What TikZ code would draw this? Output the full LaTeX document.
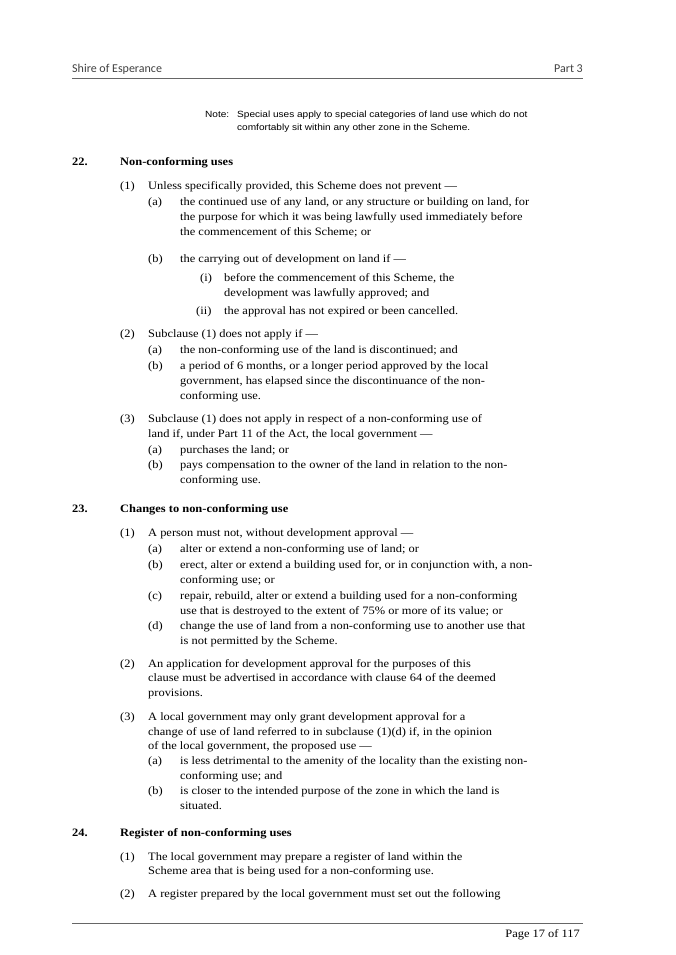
\documentclass[tikz,border=0pt]{standalone}
\usepackage{fontspec}
\setmainfont{Liberation Serif}[FakeStretch=1.1]
\newfontfamily\hdrfont{Carlito}
\newfontfamily\notefont{Liberation Sans}[FakeStretch=1.12]
\begin{document}
\begin{tikzpicture}[x=1pt,y=-1pt,
  t/.style={anchor=base west,inner sep=0pt,font=\fontsize{11.3}{13}\selectfont},
  tb/.style={t,font=\fontsize{11.3}{13}\selectfont\bfseries},
  tr/.style={anchor=base east,inner sep=0pt,font=\fontsize{11.3}{13}\selectfont},
  hd/.style={inner sep=0pt,font=\fontsize{12}{14}\hdrfont,text=black!75},
  nt/.style={anchor=base west,inner sep=0pt,font=\fontsize{9}{10}\notefont}]
\useasboundingbox (0,0) rectangle (675,955);
% header
\node[hd,anchor=base west] (h1) at (72,73) {Shire of Esperance};
\node[hd,anchor=base east] (h2) at (583,73) {Part 3};
\draw[black!60,line width=0.6pt] (72,78) -- (583,78);
% note
\node[nt] (n1) at (205,117.5) {Note:};
\node[nt] (n2) at (237,117.5) {Special uses apply to special categories of land use which do not};
\node[nt] (n3) at (237,130.5) {comfortably sit within any other zone in the Scheme.};
% 22
\node[tb] at (72,165) {22.};
\node[tb] at (120,165) {Non-conforming uses};
\node[t] at (120,189) {(1)};
\node[t] at (148,189) {Unless specifically provided, this Scheme does not prevent ---};
\node[t] at (148,205) {(a)};
\node[t] at (180,205) {the continued use of any land, or any structure or building on land, for};
\node[t] at (180,220) {the purpose for which it was being lawfully used immediately before};
\node[t] at (180,235) {the commencement of this Scheme; or};
\node[t] at (148,262) {(b)};
\node[t] at (180,262) {the carrying out of development on land if ---};
\node[t] at (200,281) {(i)};
\node[t] at (224,281) {before the commencement of this Scheme, the};
\node[t] at (224,296) {development was lawfully approved; and};
\node[t] at (196,314) {(ii)};
\node[t] at (224,314) {the approval has not expired or been cancelled.};
\node[t] at (120,337) {(2)};
\node[t] at (148,337) {Subclause (1) does not apply if ---};
\node[t] at (148,353) {(a)};
\node[t] at (180,353) {the non-conforming use of the land is discontinued; and};
\node[t] at (148,369) {(b)};
\node[t] at (180,369) {a period of 6 months, or a longer period approved by the local};
\node[t] at (180,384) {government, has elapsed since the discontinuance of the non-};
\node[t] at (180,399) {conforming use.};
\node[t] at (120,422) {(3)};
\node[t] at (148,422) {Subclause (1) does not apply in respect of a non-conforming use of};
\node[t] at (148,437) {land if, under Part 11 of the Act, the local government ---};
\node[t] at (148,453) {(a)};
\node[t] at (180,453) {purchases the land; or};
\node[t] at (148,468) {(b)};
\node[t] at (180,468) {pays compensation to the owner of the land in relation to the non-};
\node[t] at (180,483) {conforming use.};
% 23
\node[tb] at (72,512) {23.};
\node[tb] at (120,512) {Changes to non-conforming use};
\node[t] at (120,536) {(1)};
\node[t] at (148,536) {A person must not, without development approval ---};
\node[t] at (148,552) {(a)};
\node[t] at (180,552) {alter or extend a non-conforming use of land; or};
\node[t] at (148,568) {(b)};
\node[t] at (180,568) {erect, alter or extend a building used for, or in conjunction with, a non-};
\node[t] at (180,583) {conforming use; or};
\node[t] at (148,599) {(c)};
\node[t] at (180,599) {repair, rebuild, alter or extend a building used for a non-conforming};
\node[t] at (180,614) {use that is destroyed to the extent of 75\% or more of its value; or};
\node[t] at (148,629) {(d)};
\node[t] at (180,629) {change the use of land from a non-conforming use to another use that};
\node[t] at (180,644) {is not permitted by the Scheme.};
\node[t] at (120,667) {(2)};
\node[t] at (148,667) {An application for development approval for the purposes of this};
\node[t] at (148,681) {clause must be advertised in accordance with clause 64 of the deemed};
\node[t] at (148,696) {provisions.};
\node[t] at (120,720) {(3)};
\node[t] at (148,720) {A local government may only grant development approval for a};
\node[t] at (148,735) {change of use of land referred to in subclause (1)(d) if, in the opinion};
\node[t] at (148,749) {of the local government, the proposed use ---};
\node[t] at (148,764) {(a)};
\node[t] at (180,764) {is less detrimental to the amenity of the locality than the existing non-};
\node[t] at (180,779) {conforming use; and};
\node[t] at (148,794) {(b)};
\node[t] at (180,794) {is closer to the intended purpose of the zone in which the land is};
\node[t] at (180,809) {situated.};
% 24
\node[tb] at (72,836) {24.};
\node[tb] at (120,836) {Register of non-conforming uses};
\node[t] at (120,860) {(1)};
\node[t] at (148,860) {The local government may prepare a register of land within the};
\node[t] at (148,874) {Scheme area that is being used for a non-conforming use.};
\node[t] at (120,897) {(2)};
\node[t] at (148,897) {A register prepared by the local government must set out the following};
% footer
\draw[black!60,line width=0.6pt] (72,923) -- (583,923);
\node[tr] (f) at (580,937) {Page 17 of 117};
\end{tikzpicture}
\end{document}
